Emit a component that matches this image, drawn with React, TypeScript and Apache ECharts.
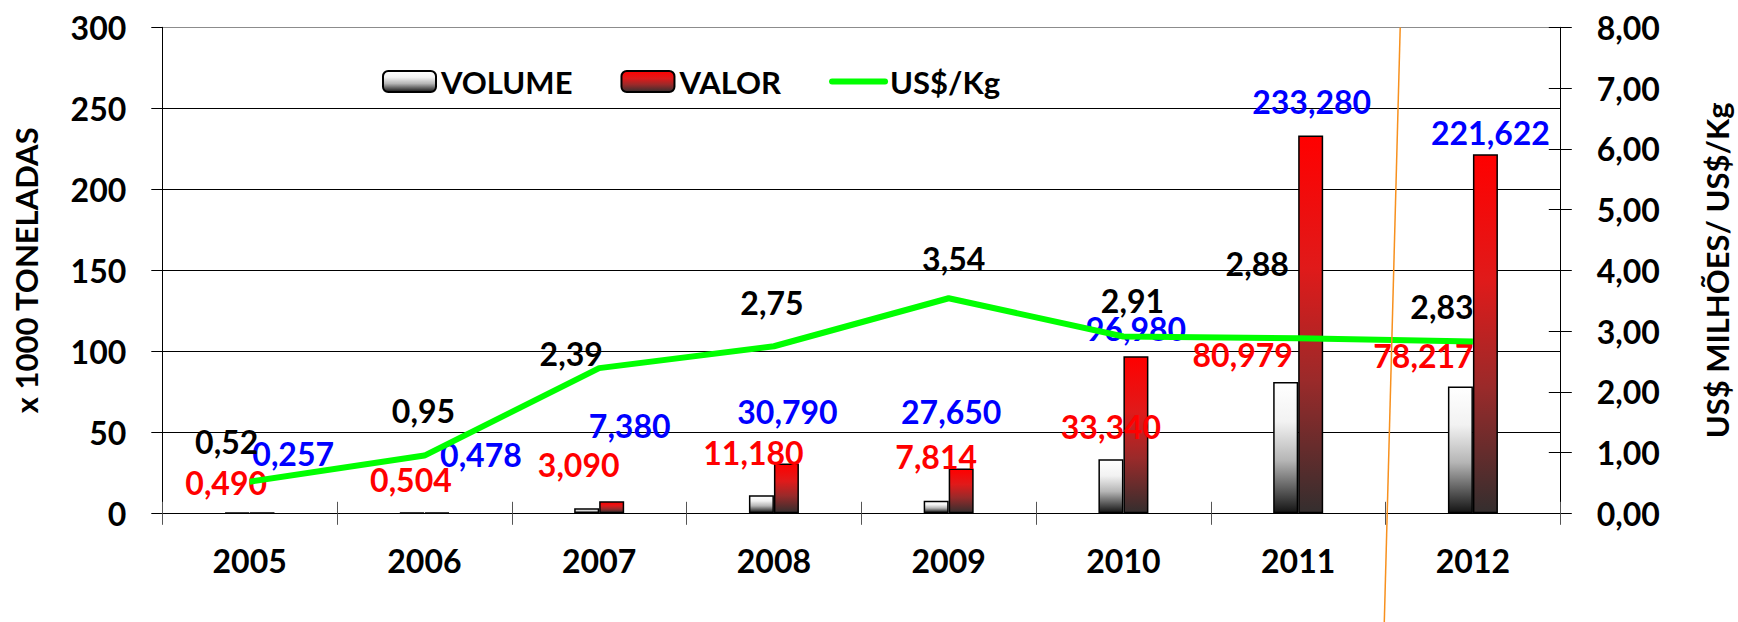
import React, { useEffect, useRef } from 'react';
import * as echarts from 'echarts';

// ---- data ----
const years = ['2005', '2006', '2007', '2008', '2009', '2010', '2011', '2012'];
const volume = [0.49, 0.504, 3.09, 11.18, 7.814, 33.34, 80.979, 78.217];
const valor = [0.257, 0.478, 7.38, 30.79, 27.65, 96.98, 233.28, 221.622];
const priceKg = [0.52, 0.95, 2.39, 2.75, 3.54, 2.91, 2.88, 2.83];
const leftAxisTicks = [0, 50, 100, 150, 200, 250, 300];
const rightAxisTicks = [0, 1, 2, 3, 4, 5, 6, 7, 8];

// ---- manual label placement (px offsets from each mark's anchor) ----
const volumeLabelOffsets = [[-11, -30], [-1, -33], [-8, -44], [-8, -43], [0, -44], [0, -33], [-43, -28], [-37, -31]];
const valorLabelOffsets = [[31, -59], [44, -58], [18, -76], [1, -52], [-10, -57], [0, -28], [1, -34], [5, -22]];
const priceLabelOffsets = [[-23, -40], [-1, -45], [-28, -15], [-2, -44], [5, -40], [9, -36], [-41, -75], [-31, -35]];

const FONT = 'Lato';
const fmt3 = (v: number) => v.toFixed(3).replace('.', ',');
const fmt2 = (v: number) => v.toFixed(2).replace('.', ',');

export default function App() {
  const ref = useRef<HTMLDivElement>(null);

  useEffect(() => {
    if (!ref.current) return;
    const chart = echarts.init(ref.current, undefined, { renderer: 'svg' });

    const volGrad = new echarts.graphic.LinearGradient(0, 0, 0, 1, [
      { offset: 0, color: '#ffffff' },
      { offset: 0.3, color: '#f2f2f2' },
      { offset: 0.6, color: '#b5b5b5' },
      { offset: 1, color: '#141414' },
    ]);
    const valGrad = new echarts.graphic.LinearGradient(0, 0, 0, 1, [
      { offset: 0, color: '#ff0000' },
      { offset: 0.35, color: '#e01a1a' },
      { offset: 0.65, color: '#9a2a2a' },
      { offset: 1, color: '#342e2e' },
    ]);

    const labelBase = {
      show: true,
      fontFamily: FONT,
      fontWeight: 'bold',
      fontSize: 32,
      lineHeight: 24,
      align: 'center',
      verticalAlign: 'middle',
    };

    const leftMin = leftAxisTicks[0];
    const leftMax = leftAxisTicks[leftAxisTicks.length - 1];
    const leftInt = leftAxisTicks[1] - leftAxisTicks[0];
    const rightMin = rightAxisTicks[0];
    const rightMax = rightAxisTicks[rightAxisTicks.length - 1];
    const rightInt = rightAxisTicks[1] - rightAxisTicks[0];

    const axisFont = { fontFamily: FONT, fontWeight: 'bold', fontSize: 32, color: '#000' };

    const option: any = {
      animation: false,
      backgroundColor: '#ffffff',
      textStyle: { fontFamily: FONT, fontWeight: 'bold' },
      grid: {
        left: 162.3,
        right: 177.7,
        top: 27.3,
        bottom: 108.7,
        containLabel: false,
        outerBoundsMode: 'none',
      },
      legend: {
        left: 382,
        top: 66,
        padding: 0,
        itemWidth: 53,
        itemHeight: 21,
        itemGap: 48,
        textStyle: { fontFamily: FONT, fontWeight: 'bold', fontSize: 31, color: '#000' },
        lineStyle: { width: 6, cap: 'round' },
        data: ['VOLUME', 'VALOR', 'US$/Kg'],
      },
      xAxis: [
        {
          type: 'category',
          data: years,
          position: 'bottom',
          axisLine: { show: true, lineStyle: { color: '#000', width: 1 } },
          axisTick: { show: true, inside: false, length: 11.5, lineStyle: { color: '#555', width: 1 } },
          axisLabel: { ...axisFont, margin: 31 },
          splitLine: { show: false },
        },
        {
          type: 'category',
          data: years,
          position: 'bottom',
          offset: 0,
          axisLine: { show: false },
          axisTick: { show: true, inside: true, length: 11.5, lineStyle: { color: '#555', width: 1 } },
          axisLabel: { show: false },
          splitLine: { show: false },
        },
      ],
      yAxis: [
        {
          type: 'value',
          position: 'left',
          min: leftMin,
          max: leftMax,
          interval: leftInt,
          name: 'x 1000 TONELADAS',
          nameLocation: 'middle',
          nameGap: 121,
          nameTextStyle: { fontFamily: FONT, fontWeight: 'bold', fontSize: 31, color: '#000' },
          axisLine: { show: true, lineStyle: { color: '#000', width: 1 } },
          axisTick: { show: true, inside: false, length: 11, lineStyle: { color: '#000', width: 1 } },
          axisLabel: { ...axisFont, margin: 36 },
          splitLine: {
            show: true,
            lineStyle: { color: ['#000', '#000', '#000', '#000', '#000', '#000', '#8c8c8c'], width: 1 },
          },
        },
        {
          type: 'value',
          position: 'right',
          min: rightMin,
          max: rightMax,
          interval: rightInt,
          name: 'US$ MILHÕES/ US$/Kg',
          nameLocation: 'middle',
          nameGap: 141,
          nameTextStyle: { fontFamily: FONT, fontWeight: 'bold', fontSize: 31, color: '#000' },
          axisLine: { show: true, lineStyle: { color: '#000', width: 1 } },
          axisTick: { show: true, inside: false, length: 11.5, lineStyle: { color: '#000', width: 1 } },
          axisLabel: { ...axisFont, margin: 36.4, formatter: (v: number) => fmt2(v) },
          splitLine: { show: false },
        },
        {
          type: 'value',
          position: 'right',
          offset: 0,
          min: rightMin,
          max: rightMax,
          interval: rightInt,
          axisLine: { show: false },
          axisTick: { show: true, inside: true, length: 11.5, lineStyle: { color: '#000', width: 1 } },
          axisLabel: { show: false },
          splitLine: { show: false },
        },
      ],
      series: [
        {
          name: 'VOLUME',
          type: 'bar',
          xAxisIndex: 0,
          yAxisIndex: 0,
          barWidth: 25,
          barGap: '0%',
          itemStyle: { color: volGrad, borderColor: '#000', borderWidth: 1.5 },
          label: {
            ...labelBase,
            position: 'top',
            distance: 0,
            color: '#ff0000',
            formatter: (p: any) => fmt3(p.value),
          },
          data: volume.map((v, i) => ({ value: v, label: { offset: volumeLabelOffsets[i] } })),
          z: 2,
        },
        {
          name: 'VALOR',
          type: 'bar',
          xAxisIndex: 0,
          yAxisIndex: 0,
          barWidth: 25,
          barGap: '0%',
          itemStyle: { color: valGrad, borderColor: '#000', borderWidth: 1.5 },
          label: {
            ...labelBase,
            position: 'top',
            distance: 0,
            color: '#0000ff',
            formatter: (p: any) => fmt3(p.value),
          },
          data: valor.map((v, i) => ({ value: v, label: { offset: valorLabelOffsets[i] } })),
          z: 2,
        },
        {
          name: 'US$/Kg',
          type: 'line',
          xAxisIndex: 0,
          yAxisIndex: 1,
          symbol: 'circle',
          symbolSize: 1,
          showSymbol: true,
          itemStyle: { color: 'rgba(0,0,0,0)' },
          lineStyle: { color: '#00ff00', width: 6 },
          label: {
            ...labelBase,
            position: 'inside',
            color: '#000',
            formatter: (p: any) => fmt2(p.value),
          },
          data: priceKg.map((v, i) => ({ value: v, label: { offset: priceLabelOffsets[i] } })),
          z: 3,
        },
      ],
      graphic: [
        {
          type: 'line',
          shape: { x1: 1400.2, y1: 27.5, x2: 1384.3, y2: 622 },
          style: { stroke: '#f7901e', lineWidth: 1.5 },
          z: 100,
        },
      ],
    };

    chart.setOption(option);
    return () => {
      chart.dispose();
    };
  }, []);

  return (
    <div
      ref={ref}
      style={{ position: 'absolute', left: 0, top: 0, width: 1738, height: 622, background: '#fff' }}
    />
  );
}
